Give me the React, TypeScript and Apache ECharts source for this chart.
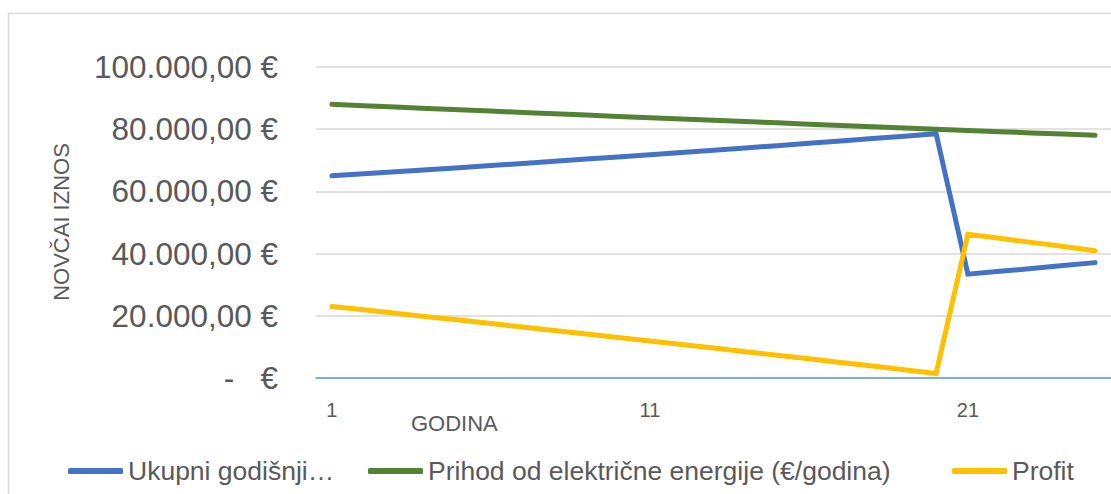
import React, { useEffect, useRef } from "react";
import * as echarts from "echarts";

const years = Array.from({ length: 25 }, (_, i) => String(i + 1));
const ukupni = [
  65000, 65650, 66307, 66970, 67639, 68316, 68999, 69689, 70386, 71090,
  71800, 72518, 73244, 73976, 74716, 75463, 76218, 76980, 77750, 78527,
  33400, 34300, 35200, 36150, 37100,
];
const prihod = [
  88000, 87560, 87122, 86687, 86253, 85822, 85393, 84966, 84541, 84118,
  83698, 83279, 82863, 82448, 82036, 81626, 81218, 80812, 80408, 80006,
  79606, 79208, 78812, 78418, 78026,
];
const profit = [
  23000, 21910, 20815, 19717, 18614, 17506, 16394, 15277, 14155, 13028,
  11898, 10761, 9619, 8472, 7320, 6163, 5000, 3832, 2658, 1479,
  46206, 44908, 43612, 42268, 40926,
];
const seriesNames = [
  "Ukupni godišnji troškovi (€/godina)",
  "Prihod od električne energije (€/godina)",
  "Profit",
];
const colors = ["#4472C4", "#548235", "#FFC000"];

const FONT = "Liberation Sans, Arial, sans-serif";
const TXT = "#595959";

function fmt(v: number): string {
  if (v === 0) return "-   €";
  const s = Math.round(v).toString().replace(/\B(?=(\d{3})+(?!\d))/g, ".");
  return s + ",00 €";
}

export default function App() {
  const ref = useRef<HTMLDivElement>(null);
  useEffect(() => {
    if (!ref.current) return;
    const chart = echarts.init(ref.current, undefined, { renderer: "svg" });
    const legendBase = {
      top: 457,
      padding: 0,
      itemWidth: 55,
      itemHeight: 6,
      icon: "roundRect",
      textStyle: { fontFamily: FONT, fontSize: 26.5, color: TXT, lineHeight: 28 },
      formatter: (n: string) => (n === seriesNames[0] ? "Ukupni godišnji…" : n),
    };
    chart.setOption({
      animation: false,
      backgroundColor: "#ffffff",
      color: colors,
      grid: { left: 316, top: 67, bottom: 116, width: 800, containLabel: false },
      legend: [
        { ...legendBase, left: 68, data: [seriesNames[0]] },
        { ...legendBase, left: 368, data: [seriesNames[1]] },
        { ...legendBase, left: 952, data: [seriesNames[2]] },
      ],
      xAxis: {
        type: "category",
        data: years,
        boundaryGap: true,
        axisLine: { lineStyle: { color: "#5B9BD5", width: 1.5 } },
        axisTick: { show: false },
        axisLabel: {
          interval: 9,
          fontFamily: FONT,
          fontSize: 20,
          color: TXT,
          margin: 22,
        },
      },
      yAxis: {
        type: "value",
        min: 0,
        max: 100000,
        interval: 20000,
        axisLine: { show: false },
        axisTick: { show: false },
        splitLine: { lineStyle: { color: "#D9D9D9", width: 1.5 } },
        axisLabel: {
          formatter: fmt,
          fontFamily: FONT,
          fontSize: 31.5,
          color: TXT,
          margin: 38,
        },
      },
      graphic: [
        {
          type: "rect",
          shape: { x: 8.5, y: 13.5, width: 1200, height: 600 },
          style: { fill: "none", stroke: "#D9D9D9", lineWidth: 1.5 },
          z: -10,
          silent: true,
        },
        {
          type: "text",
          x: 411,
          y: 423,
          style: {
            text: "GODINA",
            font: `22px ${FONT}`,
            fill: TXT,
            align: "left",
            verticalAlign: "middle",
          },
        },
        {
          type: "text",
          x: 61,
          y: 222,
          rotation: Math.PI / 2,
          style: {
            text: "NOVČAI IZNOS",
            font: `22px ${FONT}`,
            fill: TXT,
            align: "center",
            verticalAlign: "middle",
          },
        },
      ],
      series: [
        { name: seriesNames[0], data: ukupni },
        { name: seriesNames[1], data: prihod },
        { name: seriesNames[2], data: profit },
      ].map((s, i) => ({
        ...s,
        type: "line",
        symbol: "none",
        showSymbol: false,
        lineStyle: { width: 5, color: colors[i], cap: "round", join: "miter" },
        itemStyle: { color: colors[i] },
        z: 3,
      })),
    });
    return () => chart.dispose();
  }, []);
  return (
    <div
      ref={ref}
      style={{ position: "fixed", left: 0, top: 0, width: 1111, height: 494 }}
    />
  );
}
